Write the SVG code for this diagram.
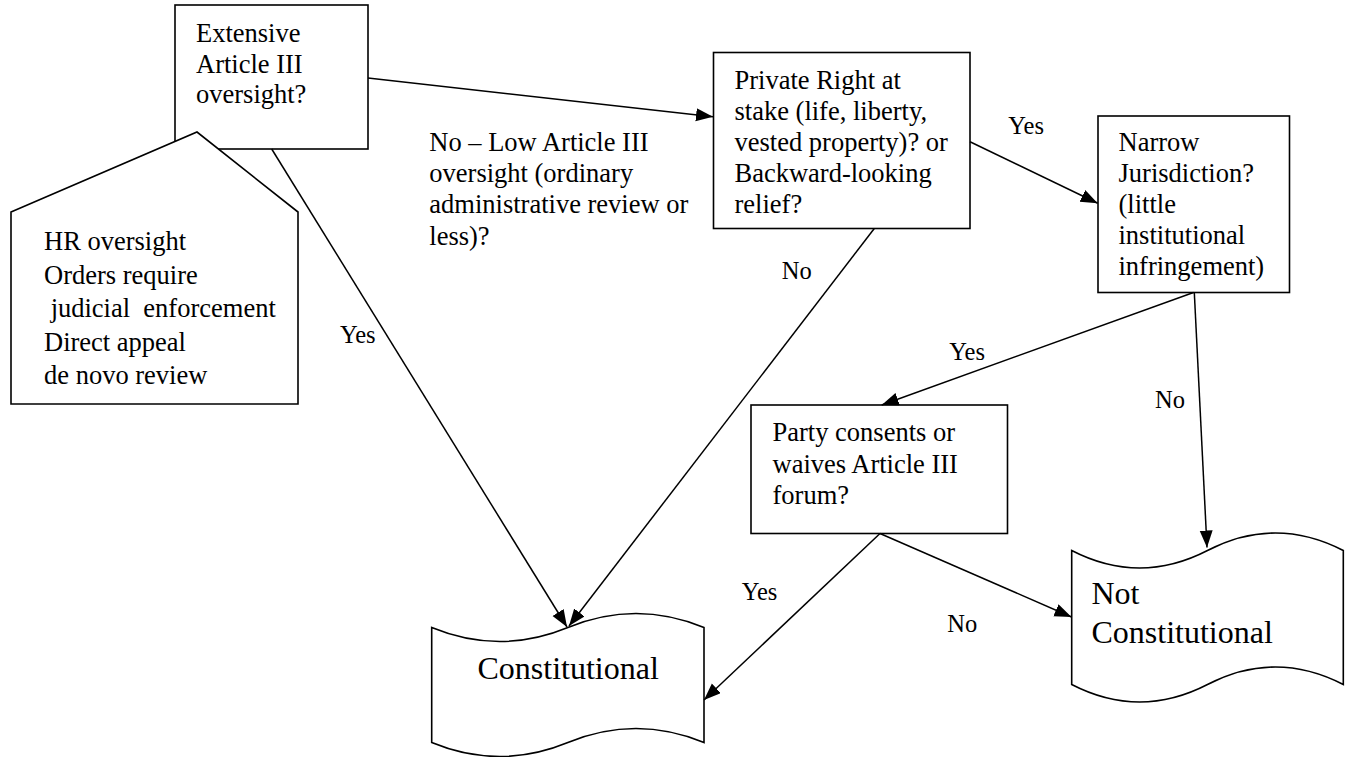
<svg xmlns="http://www.w3.org/2000/svg" width="1351" height="757" viewBox="0 0 1351 757">
<style>
  .box { fill: #fff; stroke: #000; stroke-width: 1.6; }
  .t { font-family: "Liberation Serif", "Times New Roman", serif; font-size: 26.5px; fill: #000; }
  .lbl { font-family: "Liberation Serif", "Times New Roman", serif; font-size: 24.5px; fill: #000; }
  .big { font-family: "Liberation Serif", "Times New Roman", serif; font-size: 32px; fill: #000; }
  .conn line { stroke: #000; stroke-width: 1.5; fill: none; }
  .pre { white-space: pre; }
</style>
<defs>
  <marker id="arr" markerUnits="userSpaceOnUse" markerWidth="18" markerHeight="14" refX="17" refY="6.5" orient="auto">
    <path d="M0,0 L17,6.5 L0,13 z" fill="#000"/>
  </marker>
</defs>
<rect width="1351" height="757" fill="#fff"/>

<g id="extensive">
  <rect class="box" x="175" y="5" width="193" height="144"/>
  <text class="t" x="196" y="42">Extensive</text>
  <text class="t" x="196" y="73">Article III</text>
  <text class="t" x="196" y="103">oversight?</text>
</g>

<g id="callout">
  <polygon class="box" points="11,212 197,132 298,212 298,404 11,404"/>
  <text class="t" x="44" y="250">HR oversight</text>
  <text class="t" x="44" y="284">Orders require</text>
  <text class="t pre" x="44" y="317" xml:space="preserve"> judicial  enforcement</text>
  <text class="t" x="44" y="351">Direct appeal</text>
  <text class="t" x="44" y="384">de novo review</text>
</g>

<g id="private">
  <rect class="box" x="713.5" y="52.5" width="256.5" height="176"/>
  <text class="t" x="734.5" y="88.5">Private Right at</text>
  <text class="t" x="734.5" y="119.5">stake (life, liberty,</text>
  <text class="t" x="734.5" y="150.5">vested property)? or</text>
  <text class="t" x="734.5" y="181.5">Backward-looking</text>
  <text class="t" x="734.5" y="212.5">relief?</text>
</g>

<g id="narrow">
  <rect class="box" x="1098" y="116" width="191.5" height="176.5"/>
  <text class="t" x="1118.5" y="150.5">Narrow</text>
  <text class="t" x="1118.5" y="181.5">Jurisdiction?</text>
  <text class="t" x="1118.5" y="212.5">(little</text>
  <text class="t" x="1118.5" y="244">institutional</text>
  <text class="t" x="1118.5" y="275">infringement)</text>
</g>

<g id="party">
  <rect class="box" x="751" y="405" width="256.5" height="128.5"/>
  <text class="t" x="772.5" y="441">Party consents or</text>
  <text class="t" x="772.5" y="472.5">waives Article III</text>
  <text class="t" x="772.5" y="504">forum?</text>
</g>

<g id="constitutional">
  <path class="box" d="M431.7,627.5 Q499.8,655.5 567.9,627.5 T704,627.5 L704,742.5 Q636,714.5 567.9,742.5 T431.7,742.5 Z"/>
  <text class="big" x="477.5" y="678.5">Constitutional</text>
</g>

<g id="not-constitutional">
  <path class="box" d="M1071.7,550.5 Q1139.6,585.5 1207.5,550.5 T1343.3,550.5 L1343.3,684.5 Q1275.4,649.5 1207.5,684.5 T1071.7,684.5 Z"/>
  <text class="big" x="1091.5" y="604">Not</text>
  <text class="big" x="1091.5" y="642.5">Constitutional</text>
</g>

<g id="connectors" class="conn">
  <line x1="368" y1="78" x2="713" y2="116.7" marker-end="url(#arr)"/>
  <line x1="271.7" y1="149" x2="567" y2="627" marker-end="url(#arr)"/>
  <line x1="874.3" y1="228.5" x2="569" y2="626" marker-end="url(#arr)"/>
  <line x1="970" y1="141.7" x2="1097.7" y2="203.3" marker-end="url(#arr)"/>
  <line x1="1193.5" y1="292.5" x2="881.7" y2="405" marker-end="url(#arr)"/>
  <line x1="1194.3" y1="292.5" x2="1207" y2="547.5" marker-end="url(#arr)"/>
  <line x1="880" y1="533.5" x2="704" y2="700" marker-end="url(#arr)"/>
  <line x1="880" y1="533.5" x2="1071.5" y2="617" marker-end="url(#arr)"/>
</g>

<g id="labels">
  <text class="lbl" x="340" y="343">Yes</text>
  <text class="t" x="429.3" y="150.7">No – Low Article III</text>
  <text class="t" x="429.3" y="181.7">oversight (ordinary</text>
  <text class="t" x="429.3" y="213.3">administrative review or</text>
  <text class="t" x="429.3" y="245">less)?</text>
  <text class="lbl" x="781.7" y="279">No</text>
  <text class="lbl" x="1008.3" y="134.3">Yes</text>
  <text class="lbl" x="949.3" y="360">Yes</text>
  <text class="lbl" x="1155" y="408.3">No</text>
  <text class="lbl" x="741.7" y="600">Yes</text>
  <text class="lbl" x="947.3" y="631.7">No</text>
</g>
</svg>
